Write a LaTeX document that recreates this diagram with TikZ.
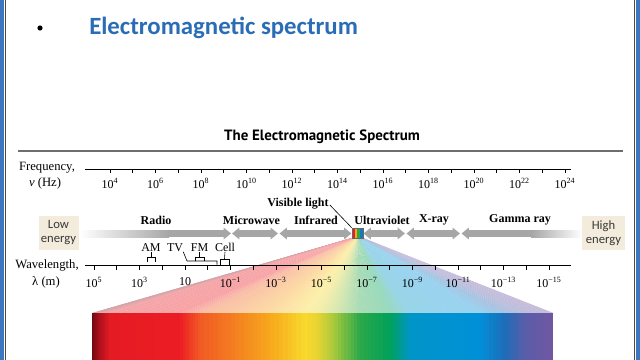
\documentclass[tikz,border=0pt]{standalone}
\usepackage{fontspec}
\setmainfont{Liberation Serif}
\newfontfamily\carlito{Carlito}
\newfontfamily\ptsans{PT Sans}
\usetikzlibrary{arrows.meta}
\definecolor{titleblue}{HTML}{2A6DB5}
\definecolor{frameblue}{HTML}{3B78C0}
\definecolor{barg}{HTML}{A6A6A6}
\definecolor{beige}{HTML}{F3ECDC}
\definecolor{rulegray}{HTML}{6E6E6E}
\definecolor{s0}{HTML}{6E0A12}
\definecolor{s1}{HTML}{B0101C}
\definecolor{s2}{HTML}{E41B23}
\definecolor{s3}{HTML}{ED1C24}
\definecolor{s4}{HTML}{F15A24}
\definecolor{s5}{HTML}{F47F20}
\definecolor{s6}{HTML}{F7A81C}
\definecolor{s7}{HTML}{F9D92C}
\definecolor{s8}{HTML}{E6D432}
\definecolor{s9}{HTML}{A3C83D}
\definecolor{s10}{HTML}{2BA84A}
\definecolor{s11}{HTML}{00A15A}
\definecolor{s12}{HTML}{0095C8}
\definecolor{s13}{HTML}{0090D8}
\definecolor{s14}{HTML}{1F6CB8}
\definecolor{s15}{HTML}{5A5DA9}
\definecolor{s16}{HTML}{7157A2}
\def\speclist{92/s0/100/s1, 100/s1/110/s2, 110/s2/180/s3, 180/s3/200/s4, 200/s4/235/s5, 235/s5/270/s6, 270/s6/305/s7, 305/s7/318/s8, 318/s8/335/s9, 335/s9/360/s10, 360/s10/390/s11, 390/s11/410/s12, 410/s12/480/s13, 480/s13/505/s14, 505/s14/525/s15, 525/s15/553/s16}
\newcommand\tenp[1]{10\ifnum#1=1 \else\textsuperscript{\ifnum#1<0 −\the\numexpr0-(#1)\relax\else#1\fi}\fi}
\tikzset{
  axisline/.style={draw=black, line width=0.6pt},
  ticklbl/.style={font=\fontsize{9}{10}\selectfont, inner sep=0pt},
  axname/.style={font=\fontsize{9.5}{10}\selectfont, inner sep=0pt},
  bandlbl/.style={font=\bfseries\fontsize{9}{10}\selectfont, inner sep=0pt},
  bandbar/.style={draw=barg, line width=5.25pt},
  tip/.tip={Triangle[width=8.5pt,length=5.5pt]},
  ebox/.style={fill=beige, minimum width=30pt, minimum height=26pt, inner sep=0pt, align=center, text=black!78, font=\carlito\fontsize{9.5}{10.5}\selectfont},
  brk/.style={draw=black, line width=0.45pt},
}
\begin{document}
\begin{tikzpicture}[x=0.75pt,y=-0.75pt]
\useasboundingbox (0,0) rectangle (640,360);
\fill[white] (0,0) rectangle (640,360);
% frame
\fill[frameblue] (0,0) rectangle (4,360);
\draw[black!70, line width=0.9pt] (5.5,0) -- (5.5,360);
\fill[frameblue] (636,0) rectangle (640,360);
\draw[black!70, line width=0.9pt] (634.5,0) -- (634.5,360);
% heading
\fill (40,28) circle (2.6);
\node[anchor=west, inner sep=0pt, text=titleblue, font=\carlito\bfseries\fontsize{18.6}{20}\selectfont] (title) at (89,28) {Electromagnetic spectrum};
\node[inner sep=0pt, font=\ptsans\bfseries\fontsize{11.2}{12}\selectfont] (sub) at (322,137) {The Electromagnetic Spectrum};
\draw[rulegray, line width=0.8pt] (18,151) -- (623,151);
% fan and spectrum
\foreach \xa/\ca/\xb/\cb in \speclist {
  \foreach \i in {0,...,7} {
    \pgfmathsetmacro\xl{\xa+(\xb-\xa)*\i/8}
    \pgfmathsetmacro\xr{\xa+(\xb-\xa)*(\i+1)/8}
    \pgfmathsetmacro\xro{\xr+0.4}
    \pgfmathsetmacro\pc{(\i+0.5)/8*100}
    \pgfmathsetmacro\al{352+(\xl-92)/461*11}
    \pgfmathsetmacro\ar{352+(\xro-92)/461*11+0.05}
    \colorlet{tmp}{\cb!\pc!\ca}
    \fill[tmp!40!white] (\al,238) -- (\ar,238) -- (\xro,313) -- (\xl,313) -- cycle;
    \fill[tmp] (\xl,313) rectangle (\xro,361);
  }
}
% frequency axis
\coordinate (fA) at (85,169);
\coordinate (fB) at (571,169);
\draw[axisline] (fA) -- (fB);
\foreach \j in {0,...,20} \draw[axisline] (110+22.75*\j,169) -- ++(0,4.5);
\foreach \e [count=\j from 0] in {4,6,...,24}
  \node[ticklbl] (f\j) at (110+45.5*\j,183) {\tenp{\e}};
\node[axname] (freq1) at (47,168) {Frequency,};
\node[axname] (freq2) at (45,183) {\textit{ν} (Hz)};
% wavelength axis
\coordinate (wA) at (85,265);
\coordinate (wB) at (571,265);
\draw[axisline] (wA) -- (wB);
\foreach \k in {0,...,20} \draw[axisline] (94+22.75*\k,265) -- ++(0,4.5);
\foreach \e [count=\j from 0] in {5,3,1,-1,-3,-5,-7,-9,-11,-13,-15}
  \node[ticklbl] (w\j) at (94+45.5*\j,282) {\tenp{\e}};
\node[axname] (wl1) at (47,265) {Wavelength,};
\node[axname] (wl2) at (46,282) {λ (m)};
% energy boxes
\node[ebox] (low) at (58.5,233) {Low\\energy};
\node[ebox, minimum width=32pt] (high) at (603.5,233) {High\\energy};
% band bar
\coordinate (r0) at (80,233.5);
\coordinate (r1) at (168,233.5);
\coordinate (r2) at (231,233.5);
\coordinate (m1) at (232,233.5);
\coordinate (m2) at (278,233.5);
\coordinate (i1) at (279.5,233.5);
\coordinate (i2) at (351.5,233.5);
\coordinate (u1) at (363.5,233.5);
\coordinate (u2) at (405,233.5);
\coordinate (x1) at (406.5,233.5);
\coordinate (x2) at (460,233.5);
\coordinate (g1) at (461.5,233.5);
\coordinate (g2) at (532,233.5);
\coordinate (g3) at (582,233.5);
\shade[left color=white, right color=barg] (80,230) rectangle (169,237);
\draw[bandbar, -tip] (r1) -- (r2);
\draw[bandbar, tip-tip] (m1) -- (m2);
\draw[bandbar, tip-tip] (i1) -- (i2);
\draw[bandbar, tip-tip] (u1) -- (u2);
\draw[bandbar, tip-tip] (x1) -- (x2);
\draw[bandbar, tip-] (g1) -- (g2);
\shade[left color=barg, right color=white] (531,230) rectangle (582,237);
% visible box
\fill[s3] (352.5,228.5) rectangle (355.2,237.5);
\fill[s6] (355.2,228.5) rectangle (357.2,237.5);
\fill[s10] (357.2,228.5) rectangle (359.6,237.5);
\fill[s14!70!s12] (359.6,228.5) rectangle (362.5,237.5);
\node[draw=black!60, line width=0.4pt, minimum width=8.25pt, minimum height=7.5pt, inner sep=0pt] (vis) at (357.5,233) {};
% band labels
\node[bandlbl] (radio) at (156,220) {Radio};
\node[bandlbl] (micro) at (251.5,220) {Microwave};
\node[bandlbl] (infra) at (316,220) {Infrared};
\node[bandlbl] (ultra) at (382,220) {Ultraviolet};
\node[bandlbl] (xray) at (434,220) {X-ray};
\node[bandlbl] (gamma) at (520,220) {Gamma ray};
\node[bandlbl] (vislbl) at (298,204) {Visible light};
\draw[line width=0.45pt] (vislbl.east) ++(1,1) coordinate (vl) -- (vis.north west);
% radio sub-bands
\node[ticklbl] (am) at (151,247.5) {AM};
\node[ticklbl] (tv) at (175,247.5) {TV};
\node[ticklbl] (fm) at (199.5,247.5) {FM};
\node[ticklbl] (cell) at (225,247.5) {Cell};
\draw[brk] (147,262) -- (147,257) -- (155,257) -- (155,262);
\draw[brk] (151,257) -- (am.south);
\coordinate (tvL) at (187,261);
\coordinate (tvR) at (217,261);
\draw[brk] (tv.south east) -- (tvL) -- (tvR) -- ++(0,3.5);
\draw[brk] (195,261) -- (195,257) -- (204,257) -- (204,261);
\draw[brk] (199.5,257) -- (fm.south);
\draw[brk] (220,265) -- (220,259) -- (229,259) -- (229,265);
\draw[brk] (224.5,259) -- (cell.south);
\end{tikzpicture}
\end{document}
